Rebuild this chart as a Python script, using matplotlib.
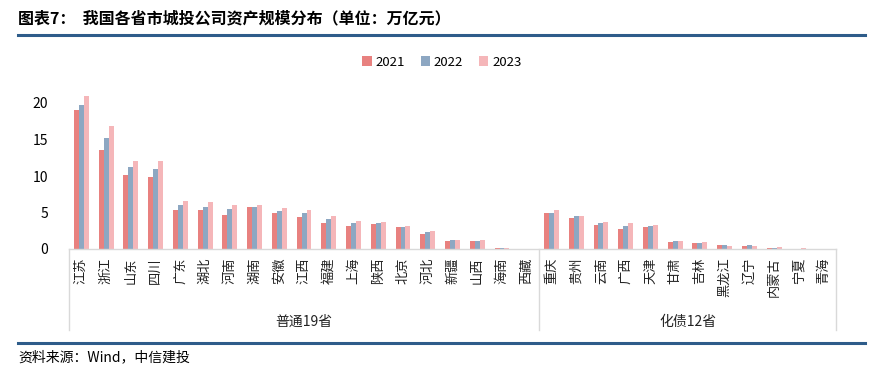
import numpy as np
import matplotlib
matplotlib.use("Agg")
import matplotlib.pyplot as plt
from matplotlib.lines import Line2D

plt.rcParams["font.family"] = ["Noto Sans CJK SC", "DejaVu Sans"]

# ---------------------------------------------------------------------------
# Data (万亿元)
# ---------------------------------------------------------------------------
provinces = ["江苏", "浙江", "山东", "四川", "广东", "湖北", "河南", "湖南", "安徽",
             "江西", "福建", "上海", "陕西", "北京", "河北", "新疆", "山西", "海南",
             "西藏",
             "重庆", "贵州", "云南", "广西", "天津", "甘肃", "吉林", "黑龙江", "辽宁",
             "内蒙古", "宁夏", "青海"]
v2021 = [19.0, 13.6, 10.1, 9.8, 5.4, 5.3, 4.7, 5.7, 4.9,
         4.4, 3.6, 3.2, 3.4, 3.0, 2.05, 1.1, 1.1, 0.15, 0.05,
         4.9, 4.3, 3.3, 2.8, 3.05, 0.95, 0.78, 0.5, 0.4, 0.14, 0.05, 0.02]
v2022 = [19.7, 15.2, 11.2, 10.95, 6.0, 5.7, 5.5, 5.8, 5.25,
         5.0, 4.1, 3.6, 3.6, 3.05, 2.3, 1.2, 1.15, 0.15, 0.03,
         5.0, 4.5, 3.6, 3.15, 3.15, 1.1, 0.82, 0.5, 0.55, 0.14, 0.05, 0.02]
v2023 = [20.9, 16.8, 12.05, 12.05, 6.6, 6.4, 6.0, 6.0, 5.6,
         5.3, 4.5, 3.8, 3.65, 3.1, 2.4, 1.2, 1.2, 0.1, 0.02,
         5.35, 4.5, 3.75, 3.5, 3.3, 1.1, 1.0, 0.45, 0.4, 0.27, 0.1, 0.02]
years = ["2021", "2022", "2023"]
groups = ["普通19省", "化债12省"]
group_sizes = [19, 12]

colors = ["#E8817F", "#8DA7C2", "#F5B6B9"]
line_blue = "#2E5C8A"
grid_grey = "#D9D9D9"

# ---------------------------------------------------------------------------
# Figure
# ---------------------------------------------------------------------------
W, H = 885, 390
fig = plt.figure(figsize=(W / 100, H / 100), dpi=100)

ax_left, ax_right = 69 / W, 836 / W
ax_bottom, ax_top = (H - 249) / H, (H - 66.5) / H
ax = fig.add_axes([ax_left, ax_bottom, ax_right - ax_left, ax_top - ax_bottom])

x = np.arange(len(provinces))
bw = 0.2
for k, (vals, c) in enumerate(zip([v2021, v2022, v2023], colors)):
    ax.bar(x + (k - 1) * bw, vals, width=bw, color=c, label=years[k], zorder=2)

ax.set_xlim(-0.5, len(provinces) - 0.5)
ax.set_ylim(0, 25)
ax.set_yticks([0, 5, 10, 15, 20])
ax.tick_params(axis="y", length=0, labelsize=10, pad=15)
ax.set_xticks([])
for s in ["top", "right", "left"]:
    ax.spines[s].set_visible(False)
ax.spines["bottom"].set_color(grid_grey)
ax.spines["bottom"].set_linewidth(1.0)

# category labels, rotated
for i, name in enumerate(provinces):
    ax.text(i, -0.045, name, rotation=90, ha="center", va="top",
            fontsize=9.5, color="#222222", transform=ax.get_xaxis_transform())

# group boxes
box_bottom = -(330 - 249) / (249 - 66.5)
trans = ax.get_xaxis_transform()
edges = [-0.5]
for n in group_sizes:
    edges.append(edges[-1] + n)
for e in edges:
    ax.add_line(Line2D([e, e], [0, box_bottom], transform=trans, color=grid_grey,
                       lw=1.0, clip_on=False))
for g, lo, hi in zip(groups, edges[:-1], edges[1:]):
    ax.text((lo + hi) / 2, -(322 - 249) / (249 - 66.5), g, ha="center", va="center",
            fontsize=10, color="#222222", transform=trans)

# legend
ax.legend(loc="center", bbox_to_anchor=(442 / W, (H - 62) / H),
          bbox_transform=fig.transFigure, ncol=3, frameon=False, fontsize=9.5,
          handlelength=0.7, handleheight=0.7, handletextpad=0.3, columnspacing=1.2)

# title, rules, source
fig.text(18 / W, 1 - 18 / H, "图表7：  我国各省市城投公司资产规模分布（单位：万亿元）",
         fontsize=11.5, fontweight="bold", ha="left", va="center")
fig.add_artist(Line2D([18 / W, 865 / W], [1 - 35 / H, 1 - 35 / H], color=line_blue,
                      lw=2.2, transform=fig.transFigure))
fig.add_artist(Line2D([18 / W, 865 / W], [1 - 343 / H, 1 - 343 / H], color=line_blue,
                      lw=2.2, transform=fig.transFigure))
fig.text(18 / W, 1 - 357 / H, "资料来源：Wind，中信建投", fontsize=10, style="italic",
         ha="left", va="center")

plt.savefig("out.png", dpi=100)
